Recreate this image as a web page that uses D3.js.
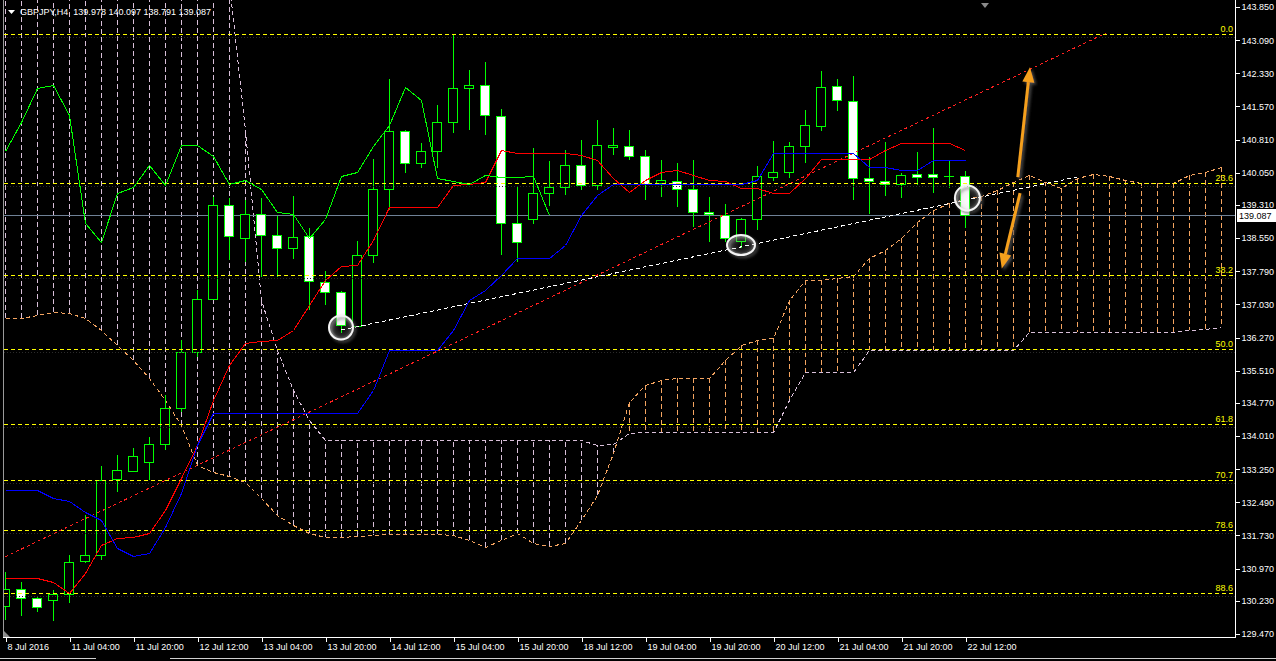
<!DOCTYPE html>
<html><head><meta charset="utf-8">
<script src="https://cdn.jsdelivr.net/npm/d3@7"></script>
<style>
html,body{margin:0;padding:0;background:#000;overflow:hidden}
text{font-family:"Liberation Sans",Arial,sans-serif;font-size:9px}
</style></head><body>
<svg id="c" width="1276" height="661"></svg>
<script>
// ---------- DATA ----------
const title = "GBPJPY,H4  139.978 140.097 138.791 139.087";
const timeLabels = ["8 Jul 2016","11 Jul 04:00","11 Jul 20:00","12 Jul 12:00","13 Jul 04:00","13 Jul 20:00","14 Jul 12:00","15 Jul 04:00","15 Jul 20:00","18 Jul 12:00","19 Jul 04:00","19 Jul 20:00","20 Jul 12:00","21 Jul 04:00","21 Jul 20:00","22 Jul 12:00"];
const priceTicks = [143.850,143.090,142.330,141.570,140.810,140.050,139.310,138.550,137.790,137.030,136.270,135.510,134.770,134.010,133.250,132.490,131.730,130.970,130.230,129.470];

const open  = [130.11,130.50,130.30,130.25,130.39,131.14,131.28,133.02,133.21,133.41,133.83,134.65,135.94,137.15,139.31,138.55,139.10,138.62,138.32,138.60,137.54,137.31,136.53,138.16,139.68,141.01,140.27,140.55,141.21,141.99,142.06,141.35,138.90,138.99,139.59,139.72,140.23,139.77,140.64,140.66,140.43,139.81,139.86,139.68,139.15,139.08,138.48,138.99,139.95,140.07,140.66,141.12,142.04,141.69,139.93,139.86,139.79,140.02,140.02,139.97,139.978];
const high  = [130.89,130.66,130.32,130.48,131.28,132.20,133.32,133.57,133.74,133.99,134.95,136.21,137.36,139.49,139.47,139.42,139.47,139.06,139.52,138.78,137.80,137.34,138.48,140.36,142.20,141.03,140.73,141.60,143.23,142.40,142.59,141.51,139.72,140.62,140.32,140.57,140.80,141.26,141.08,141.03,140.57,140.34,140.27,140.34,139.49,139.33,139.01,140.20,140.78,140.75,141.49,142.38,142.20,142.27,140.41,140.75,140.04,140.52,141.08,140.34,140.097];
const low   = [129.79,129.88,129.98,129.77,130.18,131.10,131.17,132.73,133.19,133.00,133.69,134.56,135.82,137.13,138.05,138.00,137.66,137.66,138.07,136.90,137.02,136.37,136.53,137.98,139.19,140.04,140.16,140.16,140.96,141.03,140.91,138.16,138.00,138.87,139.29,139.54,139.65,139.65,140.46,140.34,139.42,139.49,139.26,138.80,138.46,138.46,138.32,138.74,139.86,139.93,140.27,141.01,141.47,139.42,139.10,139.52,139.47,139.77,139.58,139.70,138.791];
const close = [130.50,130.30,130.09,130.39,131.12,131.28,133.00,133.23,133.55,133.83,134.65,135.94,137.15,139.31,138.60,139.10,138.62,138.32,138.57,137.57,137.31,136.55,138.16,139.68,141.01,140.27,140.55,141.21,141.99,142.06,141.37,138.90,138.46,139.59,139.72,140.23,139.77,140.69,140.69,140.43,139.79,139.88,139.68,139.15,139.10,138.55,138.99,139.97,140.07,140.66,141.14,142.02,141.72,139.93,139.86,139.79,140.00,139.95,139.95,139.98,139.087];

const tenkan = [130.75,130.75,130.75,130.66,130.41,130.87,131.51,131.67,131.70,131.79,132.31,133.05,133.81,134.84,135.64,136.14,136.19,136.21,136.44,137.02,137.59,137.91,137.93,138.51,139.26,139.26,139.26,139.26,139.77,139.79,139.84,140.57,140.50,140.50,140.50,140.50,140.46,140.34,139.93,139.61,139.88,140.07,140.11,140.00,139.88,139.86,139.70,139.70,139.58,139.58,139.93,140.36,140.36,140.36,140.36,140.57,140.73,140.73,140.73,140.73,140.57];
const kijun  = [132.77,132.77,132.77,132.59,132.52,132.27,132.08,131.44,131.26,131.33,131.92,132.70,133.81,134.54,134.54,134.54,134.54,134.54,134.54,134.54,134.54,134.54,134.54,135.07,135.98,135.98,135.98,135.98,136.44,137.13,137.36,137.70,138.09,138.09,138.09,138.39,139.08,139.54,139.79,139.79,139.79,139.79,139.79,139.79,139.79,139.79,139.79,139.88,140.50,140.50,140.50,140.50,140.50,140.50,140.18,140.18,140.11,140.11,140.34,140.34,140.34];
const spanA  = [136.72,136.72,136.79,136.86,136.83,136.72,136.44,136.10,135.75,135.34,134.84,134.26,133.35,133.19,133.09,132.96,132.59,132.20,131.97,131.79,131.70,131.70,131.72,131.74,131.76,131.76,131.76,131.76,131.74,131.63,131.47,131.63,131.79,131.56,131.49,131.56,132.08,132.66,133.62,134.79,135.18,135.30,135.34,135.34,135.34,135.75,136.10,136.21,136.26,137.13,137.59,137.59,137.64,137.68,138.09,138.28,138.55,138.92,139.19,139.36,139.45,139.52,139.65,139.84,140.00,139.84,139.70,139.93,140.02,139.97,139.88,139.81,139.81,139.81,140.00,140.07,140.18];
const spanB  = [144.40,144.40,144.40,144.40,144.40,144.40,144.40,144.40,144.40,144.40,144.40,144.40,144.40,144.40,144.40,141.03,137.13,135.98,135.07,134.38,133.92,133.92,133.92,133.92,133.92,133.92,133.92,133.92,133.92,133.92,133.92,133.92,133.92,133.92,133.92,133.92,133.92,133.80,133.83,134.08,134.10,134.10,134.10,134.10,134.10,134.10,134.10,134.10,134.10,134.84,135.48,135.48,135.48,135.48,135.98,135.98,135.98,135.98,135.98,135.98,135.98,135.98,135.98,135.98,136.40,136.40,136.40,136.40,136.40,136.40,136.40,136.40,136.40,136.40,136.44,136.47,136.51];
const chikouShift = 26;

const fibLevels = [0, 23.6, 38.2, 50.0, 61.8, 70.7, 78.6, 88.6];
const fibHigh = 143.231, fibLow = 128.760;
const lastPrice = 139.087;

const trendRed   = [{i:0, p:131.24}, {i:68.8, p:143.25}];
const trendWhite = [{i:21, p:136.44}, {i:67, p:139.95}];
const circleMarks = [{i:21, p:136.50}, {i:46, p:138.39}, {i:60.15, p:139.47}];
const arrowMarks = [{i0:63.3, p0:139.95, i1:64.06, p1:142.47}, {i0:63.44, p0:139.58, i1:62.3, p1:137.85}];

// ---------- DRAW ----------
const svg = d3.select('#c');
const plotL = 4, plotR = 1235, plotB = 637;
const x = d3.scaleLinear().domain([0, 76]).range([5, 1221]);
const y = d3.scaleLinear().domain([129.47, 143.85]).range([634, 7]);
const px = v => Math.round(x(v)) + 0.5;
const py = v => Math.round(y(v)) + 0.5;

svg.append('rect').attr('width',1276).attr('height',661).attr('fill','#000');
const defs = svg.append('defs');
defs.append('clipPath').attr('id','clip').append('rect').attr('x',plotL).attr('y',0).attr('width',plotR-plotL).attr('height',plotB);
const sh = defs.append('filter').attr('id','shadow').attr('x','-50%').attr('y','-50%').attr('width','200%').attr('height','200%');
sh.append('feDropShadow').attr('dx',2).attr('dy',2).attr('stdDeviation',1.5).attr('flood-color','#555').attr('flood-opacity',0.9);
const rg = defs.append('radialGradient').attr('id','glow');
rg.append('stop').attr('offset','0%').attr('stop-color','#fff').attr('stop-opacity',0.0);
rg.append('stop').attr('offset','70%').attr('stop-color','#fff').attr('stop-opacity',0.12);
rg.append('stop').attr('offset','100%').attr('stop-color','#fff').attr('stop-opacity',0.35);

const g = svg.append('g').attr('clip-path','url(#clip)').attr('shape-rendering','crispEdges');

// Ichimoku cloud hatches
const cloud = spanA.map((a,i)=>({i, a, b: spanB[i]}));
g.append('g').selectAll('line').data(cloud).join('line')
  .attr('x1',d=>px(d.i)).attr('x2',d=>px(d.i))
  .attr('y1',d=>y(d.a)).attr('y2',d=>y(d.b))
  .attr('stroke',d=>d.a>=d.b?'#f4a460':'#d8bfd8').attr('stroke-dasharray','5,3');
const lineGen = d3.line().x((d,i)=>px(i)).y(d=>py(d));
g.append('path').datum(spanA).attr('d',lineGen).attr('fill','none').attr('stroke','#f4a460').attr('stroke-dasharray','4,3');
g.append('path').datum(spanB).attr('d',lineGen).attr('fill','none').attr('stroke','#d8bfd8').attr('stroke-dasharray','4,3');

// last price line
g.append('line').attr('x1',plotL).attr('x2',plotR).attr('y1',py(lastPrice)).attr('y2',py(lastPrice)).attr('stroke','#6f8196');

// Candles
const candles = open.map((o,i)=>({i,o,h:high[i],l:low[i],c:close[i]}));
const cg = g.append('g');
cg.selectAll('line').data(candles).join('line')
  .attr('x1',d=>px(d.i)).attr('x2',d=>px(d.i)).attr('y1',d=>y(d.h)).attr('y2',d=>y(d.l)).attr('stroke','#00ff00');
cg.selectAll('rect').data(candles).join('rect')
  .attr('x',d=>px(d.i)-5).attr('width',9)
  .attr('y',d=>py(Math.max(d.o,d.c)))
  .attr('height',d=>Math.max(0.01, py(Math.min(d.o,d.c))-py(Math.max(d.o,d.c))))
  .attr('fill',d=>d.c>=d.o?'#000':'#fff').attr('stroke','#00ff00');

// Fibonacci
const fg = g.append('g');
const fibs = fibLevels.map(l=>({l, p: fibHigh - (fibHigh-fibLow)*l/100}));
fg.selectAll('line.s').data(fibs).join('line').attr('class','s')
  .attr('x1',plotL).attr('x2',plotR).attr('y1',d=>py(d.p)+3).attr('y2',d=>py(d.p)+3)
  .attr('stroke','#2a2a2a').attr('stroke-dasharray','1,2');
fg.selectAll('line.f').data(fibs).join('line').attr('class','f')
  .attr('x1',plotL).attr('x2',plotR).attr('y1',d=>py(d.p)).attr('y2',d=>py(d.p))
  .attr('stroke','#ffff00').attr('stroke-dasharray','4,3');
svg.append('g').selectAll('text').data(fibs).join('text')
  .attr('x',1233).attr('y',d=>py(d.p)-2.5).attr('text-anchor','end').attr('fill','#ffff00')
  .text(d=>d3.format('.1f')(d.l));

// Trend lines
const tl = d3.line().x(d=>x(d.i)).y(d=>y(d.p));
g.append('path').datum(trendRed).attr('d',tl).attr('stroke','#ff2020').attr('stroke-dasharray','3,3').attr('fill','none');
g.append('path').datum(trendWhite).attr('d',tl).attr('stroke','#ffffff').attr('stroke-dasharray','4,3').attr('fill','none');

// Ichimoku lines
g.append('path').datum(tenkan).attr('d',lineGen).attr('fill','none').attr('stroke','#ff0000');
g.append('path').datum(kijun).attr('d',lineGen).attr('fill','none').attr('stroke','#0000ff');
const chikou = close.slice(chikouShift);
g.append('path').datum(chikou).attr('d',lineGen).attr('fill','none').attr('stroke','#00ff00');

// circles
const circR = [[12,12],[14,10],[12.5,12.5]];
svg.append('g').selectAll('ellipse').data(circleMarks).join('ellipse')
  .attr('cx',d=>x(d.i)).attr('cy',d=>y(d.p))
  .attr('rx',(d,i)=>circR[i][0]).attr('ry',(d,i)=>circR[i][1])
  .attr('fill','url(#glow)').attr('stroke','#f4f4f4').attr('stroke-width',2).attr('filter','url(#shadow)');

// arrows
const ag = svg.append('g').attr('filter','url(#shadow)');
arrowMarks.forEach(a=>{
  const x0=x(a.i0), y0=y(a.p0), x1=x(a.i1), y1=y(a.p1);
  const ang=Math.atan2(y1-y0,x1-x0), L=15, Wd=6;
  const bx=x1-L*Math.cos(ang), by=y1-L*Math.sin(ang);
  ag.append('line').attr('x1',x0).attr('y1',y0).attr('x2',bx).attr('y2',by).attr('stroke','#f5a01c').attr('stroke-width',3);
  const nx=-Math.sin(ang), ny=Math.cos(ang);
  ag.append('path').attr('d',d3.line()([[x1,y1],[bx+nx*Wd,by+ny*Wd],[bx-nx*Wd,by-ny*Wd]])+'Z').attr('fill','#f5a01c');
});

// axes frame
const fr = svg.append('g').attr('shape-rendering','crispEdges');
fr.append('line').attr('x1',3.5).attr('x2',3.5).attr('y1',0).attr('y2',plotB).attr('stroke','#9a9a9a');
fr.append('line').attr('x1',plotR+0.5).attr('x2',plotR+0.5).attr('y1',0).attr('y2',plotB+0.5).attr('stroke','#fff');
fr.append('line').attr('x1',3).attr('x2',plotR+1).attr('y1',plotB+0.5).attr('y2',plotB+0.5).attr('stroke','#fff');

// price axis
const ya = svg.append('g').attr('transform',`translate(${plotR+0.5},0)`)
  .call(d3.axisRight(y).tickValues(priceTicks).tickFormat(d3.format('.3f')).tickSize(4).tickPadding(2));
ya.select('.domain').remove();
ya.selectAll('line').attr('stroke','#fff').attr('shape-rendering','crispEdges');
ya.selectAll('text').attr('fill','#fff').style('font-size','9px').attr('font-family',null);

// time axis
const tIdx = timeLabels.map((t,k)=>k*4);
const xa = svg.append('g').attr('transform',`translate(0,${plotB+0.5})`)
  .call(d3.axisBottom(x).tickValues(tIdx).tickFormat((d,k)=>timeLabels[k]).tickSize(4).tickPadding(2));
xa.select('.domain').remove();
xa.selectAll('line').attr('stroke','#fff').attr('shape-rendering','crispEdges').attr('transform','translate(0.5,0)');
xa.selectAll('text').attr('fill','#fff').attr('text-anchor','start').attr('dx',2).style('font-size','9px');

// last price label
svg.append('rect').attr('x',plotR+2).attr('y',py(lastPrice)-6.5).attr('width',40).attr('height',13).attr('fill','#fff');
svg.append('text').attr('x',plotR+4).attr('y',py(lastPrice)+3.5).attr('fill','#000').text(d3.format('.3f')(lastPrice));

// title
svg.append('path').attr('d','M8,10 L15,10 L11.5,14 Z').attr('fill','#fff');
svg.append('text').attr('x',20).attr('y',14.5).attr('fill','#fff').attr('xml:space','preserve').style('white-space','pre').text(title);

// chart shift markers
svg.append('path').attr('d','M981,3 L989,3 L985,8 Z').attr('fill','#8a8a8a');
svg.append('path').attr('d','M4,631 L4,637 L10,637 Z').attr('fill','#8a8a8a');

// bottom tab bar line
svg.append('line').attr('x1',0).attr('x2',96).attr('y1',658.5).attr('y2',658.5).attr('stroke','#d0d0d0');
svg.append('line').attr('x1',170).attr('x2',1276).attr('y1',658.5).attr('y2',658.5).attr('stroke','#d0d0d0');
</script>
</body></html>
